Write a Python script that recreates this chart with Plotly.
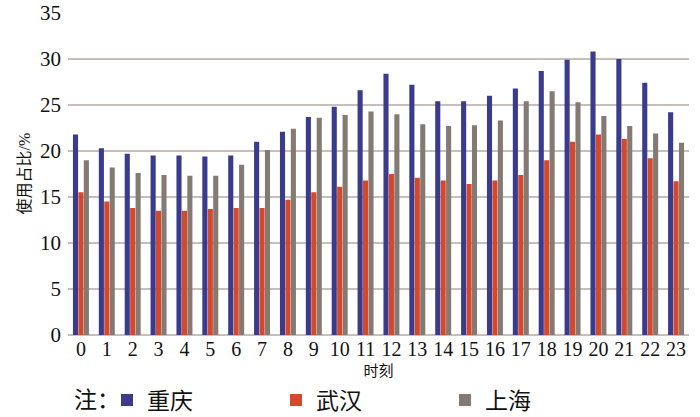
import plotly.graph_objects as go

hours = [str(h) for h in range(24)]
chongqing = [21.8, 20.3, 19.7, 19.5, 19.5, 19.4, 19.5, 21.0, 22.1, 23.7, 24.8, 26.6,
             28.4, 27.2, 25.4, 25.4, 26.0, 26.8, 28.7, 29.9, 30.8, 30.0, 27.4, 24.2]
wuhan = [15.5, 14.5, 13.8, 13.5, 13.5, 13.7, 13.8, 13.8, 14.7, 15.5, 16.1, 16.8,
         17.5, 17.1, 16.8, 16.4, 16.8, 17.4, 19.0, 21.0, 21.8, 21.3, 19.2, 16.7]
shanghai = [19.0, 18.2, 17.6, 17.4, 17.3, 17.3, 18.5, 20.1, 22.4, 23.6, 23.9, 24.3,
            24.0, 22.9, 22.7, 22.8, 23.3, 25.4, 26.5, 25.3, 23.8, 22.7, 21.9, 20.9]
series_names = ["重庆", "武汉", "上海"]
colors = ["#3b3b8e", "#d6482b", "#847a74"]
y_ticks = [0, 5, 10, 15, 20, 25, 30, 35]

serif = "Liberation Serif"
cjk = "Liberation Serif, Noto Sans CJK SC"

# plot area spans x 68..689, y 12..335 on screen (range slightly above 35 so the top grid shows)
PX0, PX1, PY0, PY1 = 68, 689, 12, 335

fig = go.Figure()
for name, vals, c in zip(series_names, [chongqing, wuhan, shanghai], colors):
    fig.add_trace(go.Bar(x=hours, y=vals, name=name, marker_color=c,
                         marker_line_width=0))

legend_y = -(400 - PY1) / (PY1 - PY0)

fig.update_layout(
    width=700, height=417,
    margin=dict(l=PX0, r=700 - PX1, t=PY0, b=417 - PY1, autoexpand=False),
    paper_bgcolor="white", plot_bgcolor="white",
    barmode="group", bargap=0.37, bargroupgap=0.06,
    font=dict(family=serif, color="#111111"),
    xaxis=dict(type="category", tickfont=dict(size=20, family=serif),
               showgrid=False, showline=False, ticks="",
               title=dict(text="时刻", font=dict(size=15, family=cjk), standoff=6)),
    yaxis=dict(range=[0, 35.1], tickvals=y_ticks, tickfont=dict(size=21, family=serif),
               showgrid=True, gridcolor="#c9bfba", gridwidth=1.5,
               zeroline=True, zerolinecolor="#c9bfba", zerolinewidth=1.5,
               showline=False, ticks="", ticklabelstandoff=6,
               title=dict(text="使用占比/%", font=dict(size=16, family=cjk), standoff=5)),
    legend=dict(orientation="h", xanchor="left", yanchor="middle",
                xref="paper", yref="paper",
                x=(107 - PX0) / (PX1 - PX0), y=legend_y,
                font=dict(size=23, family=cjk),
                entrywidth=124, entrywidthmode="pixels", itemwidth=30,
                bgcolor="rgba(0,0,0,0)"),
    annotations=[dict(text="注：", xref="paper", yref="paper",
                      x=(72 - PX0) / (PX1 - PX0), y=legend_y,
                      xanchor="left", yanchor="middle", showarrow=False,
                      font=dict(size=23, family=cjk))],
)

fig.write_html("out.html", config={"displayModeBar": False},
               post_script="document.body.style.margin='0';")
